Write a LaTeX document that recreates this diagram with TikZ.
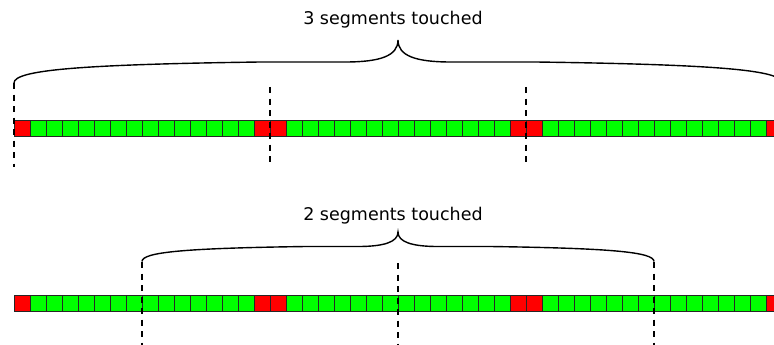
\documentclass[tikz,border=0pt]{standalone}
\usepackage{fontspec}
\setmainfont{DejaVu Sans}
\definecolor{cellred}{RGB}{255,0,0}
\definecolor{cellgreen}{RGB}{0,255,0}
\begin{document}
\begin{tikzpicture}[x=1pt,y=-1pt,
  cell/.style={draw=black!85,line width=1pt},
  boundary/.style={draw=black,line width=1.5pt,dash pattern=on 6pt off 5.5pt},
  bracepath/.style={draw=black,line width=1.4pt},
  caption/.style={font=\fontsize{17.5}{20}\selectfont,anchor=base,inner sep=0pt}]
\useasboundingbox (0,0) rectangle (774,345);
% cell rows
\foreach \row/\yt in {1/120,2/295}{
  \foreach \i in {0,...,47}{
    \pgfmathtruncatemacro\m{mod(\i,16)}
    \ifnum\m=0 \def\cc{cellred}\else\ifnum\m=15 \def\cc{cellred}\else\def\cc{cellgreen}\fi\fi
    \path[cell,fill=\cc] (14+16*\i,\yt) rectangle (30+16*\i,\yt+16);
  }
}
% row 1: segment boundaries
\coordinate (a1t) at (14,83);  \coordinate (a1b) at (14,167);
\coordinate (b1t) at (270,87); \coordinate (b1b) at (270,167);
\coordinate (c1t) at (526,87); \coordinate (c1b) at (526,167);
\draw[boundary] (a1t) -- (a1b);
\draw[boundary] (b1t) -- (b1b);
\draw[boundary] (c1t) -- (c1b);
% row 1 brace
\path[bracepath] (14,83) .. controls (14,70) and (80,64.5) .. (260,62) -- (345,62)
  .. controls (380,62) and (398,56) .. (398,40)
  .. controls (398,56) and (416,62) .. (451,62) -- (536,62)
  .. controls (716,64.5) and (782,70) .. (782,83);
\node[caption] (t1) at (393,25) {3 segments touched};
% row 2: segment boundaries
\coordinate (a2t) at (142,262); \coordinate (a2b) at (142,345);
\coordinate (b2t) at (398,263); \coordinate (b2b) at (398,345);
\coordinate (c2t) at (654,262); \coordinate (c2b) at (654,345);
\draw[boundary] (a2t) -- (a2b);
\draw[boundary] (b2t) -- (b2b);
\draw[boundary] (c2t) -- (c2b);
% row 2 brace
\path[bracepath] (142,261.5) .. controls (142,252) and (186,248.2) .. (306,246.5) -- (358,246.5)
  .. controls (384,246.5) and (398,242) .. (398,232)
  .. controls (398,242) and (412,246.5) .. (438,246.5) -- (490,246.5)
  .. controls (610,248.2) and (654,252) .. (654,261.5);
\node[caption] (t2) at (393,220) {2 segments touched};
\end{tikzpicture}
\end{document}
